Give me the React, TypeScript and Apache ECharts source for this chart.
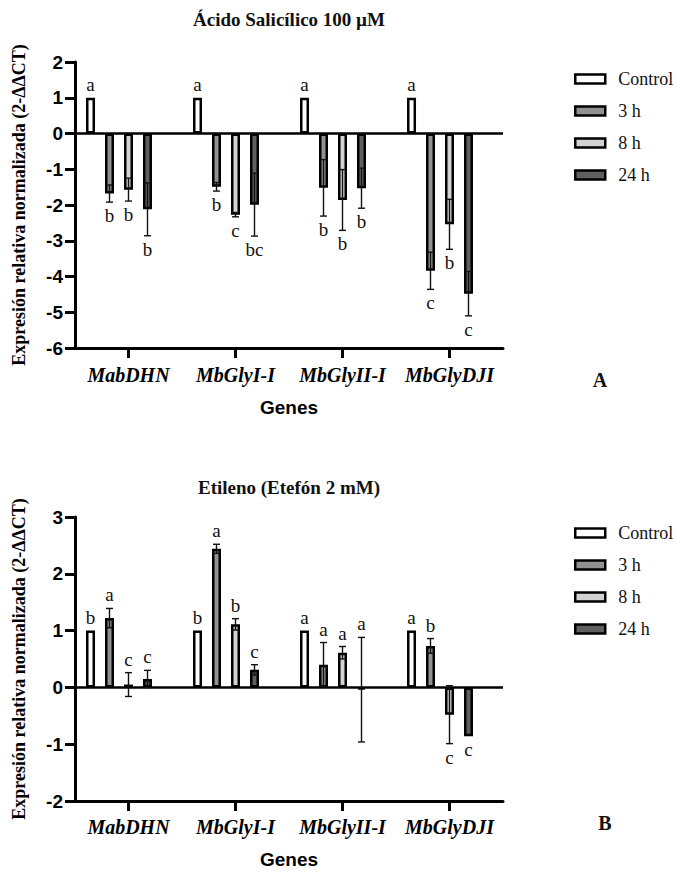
import React, { useEffect, useRef } from 'react';
import * as echarts from 'echarts';

const categories = ['MabDHN', 'MbGlyI-I', 'MbGlyII-I', 'MbGlyDJI'];
const seriesNames = ['Control', '3 h', '8 h', '24 h'];
const seriesColors = ['#ffffff', '#919191', '#d2d2d2', '#5f5f5f'];

// Chart A: Ácido Salicílico 100 µM
const saControl = [1, 1, 1, 1];
const sa3h = [-1.68, -1.49, -1.52, -3.84];
const sa8h = [-1.57, -2.27, -1.86, -2.54];
const sa24h = [-2.12, -1.99, -1.53, -4.48];
const saControlErr = [0, 0, 0, 0];
const sa3hErr = [0.24, 0.12, 0.79, 0.52];
const sa8hErr = [0.32, 0.06, 0.85, 0.7];
const sa24hErr = [0.74, 0.88, 0.56, 0.62];
const saControlLet = ['a', 'a', 'a', 'a'];
const sa3hLet = ['b', 'b', 'b', 'c'];
const sa8hLet = ['b', 'c', 'b', 'b'];
const sa24hLet = ['b', 'bc', 'b', 'c'];
const saTicks = { min: -6, max: 2 };

// Chart B: Etileno (Etefón 2 mM)
const etControl = [1, 1, 1, 1];
const et3h = [1.22, 2.44, 0.4, 0.73];
const et8h = [0.05, 1.11, 0.61, -0.48];
const et24h = [0.15, 0.31, -0.04, -0.86];
const etControlErr = [0, 0, 0, 0];
const et3hErr = [0.17, 0.08, 0.39, 0.13];
const et8hErr = [0.21, 0.1, 0.11, 0.51];
const et24hErr = [0.15, 0.09, 0.92, 0];
const etControlLet = ['b', 'b', 'a', 'a'];
const et3hLet = ['a', 'a', 'a', 'b'];
const et8hLet = ['c', 'b', 'a', 'c'];
const et24hLet = ['c', 'c', 'a', 'c'];
const etTicks = { min: -2, max: 3 };

const BAR_W = 9;
const BAR_GAP = 10 / 9;
const N_SLOTS = 5;
const SPACING = BAR_W * (1 + BAR_GAP);

const SERIF = '"Liberation Serif", "Times New Roman", serif';
const SANS = '"Liberation Sans", Arial, sans-serif';

function buildChart(
  g: number,
  values: number[][],
  errs: number[][],
  letters: string[][]
) {
  const series: any[] = [];
  values.forEach((vals, s) => {
    const bs: any = {
      type: 'bar',
      name: seriesNames[s],
      xAxisIndex: g,
      yAxisIndex: g,
      data: vals,
      barWidth: BAR_W,
      barGap: Math.round(BAR_GAP * 100) + '%',
      itemStyle: { color: seriesColors[s], borderColor: '#000', borderWidth: 2.5 },
      z: 2,
    };
    if (s === 0) {
      bs.markLine = {
        silent: true,
        symbol: ['none', 'none'],
        label: { show: false },
        lineStyle: { color: '#000', width: 2.5, type: 'solid' },
        data: [{ yAxis: 0 }],
        z: 4,
      };
    }
    series.push(bs);
  });
  // empty slot so that the group sits left of the tick, as in the original
  series.push({
    type: 'bar',
    name: '_pad' + g,
    xAxisIndex: g,
    yAxisIndex: g,
    data: ['-', '-', '-', '-'],
    barWidth: BAR_W,
    barGap: Math.round(BAR_GAP * 100) + '%',
  });

  const data: number[][] = [];
  const lets: string[] = [];
  values.forEach((vals, s) => {
    vals.forEach((v, c) => {
      data.push([c, s, v, errs[s][c]]);
      lets.push(letters[s][c]);
    });
  });

  series.push({
    type: 'custom',
    xAxisIndex: g,
    yAxisIndex: g,
    z: 6,
    clip: false,
    silent: true,
    data,
    renderItem: (params: any, api: any) => {
      const c = api.value(0);
      const s = api.value(1);
      const v = api.value(2);
      const e = api.value(3);
      const pv = api.coord([c, v]);
      const x = pv[0] + (s - (N_SLOTS - 1) / 2) * SPACING;
      const yv = pv[1];
      const yHi = api.coord([c, v + e])[1];
      const yLo = api.coord([c, v - e])[1];
      const children: any[] = [];
      const ls = { stroke: '#111', lineWidth: 1.4 };
      if (e > 0) {
        children.push({ type: 'line', shape: { x1: x, y1: yHi, x2: x, y2: yLo }, style: ls });
        children.push({ type: 'line', shape: { x1: x - 3.5, y1: yHi, x2: x + 3.5, y2: yHi }, style: ls });
        children.push({ type: 'line', shape: { x1: x - 3.5, y1: yLo, x2: x + 3.5, y2: yLo }, style: ls });
      }
      const up = v > -0.1;
      const ty = up ? Math.min(yHi, yv) - 4 : Math.max(yLo, yv) + 4;
      children.push({
        type: 'text',
        style: {
          x,
          y: ty,
          text: lets[params.dataIndex],
          align: 'center',
          verticalAlign: up ? 'bottom' : 'top',
          font: '19px ' + SERIF,
          fill: '#111',
        },
      });
      return { type: 'group', children };
    },
  });
  return series;
}

function axisPair(g: number, ticks: { min: number; max: number }, labelMargin: number, nameGap: number) {
  const xAxis = {
    type: 'category',
    gridIndex: g,
    data: categories,
    axisLine: { show: true, onZero: false, lineStyle: { color: '#000', width: 3 } },
    axisTick: { show: true, alignWithLabel: true, interval: 0, inside: false, length: 10, lineStyle: { color: '#000', width: 3 } },
    axisLabel: {
      interval: 0,
      fontFamily: SERIF,
      fontStyle: 'italic',
      fontWeight: 'bold',
      fontSize: 20,
      color: '#000',
      margin: labelMargin,
    },
    name: 'Genes',
    nameLocation: 'middle',
    nameGap,
    nameTextStyle: { fontFamily: SANS, fontWeight: 'bold', fontSize: 19, color: '#000' },
  };
  const yAxis = {
    type: 'value',
    gridIndex: g,
    min: ticks.min,
    max: ticks.max,
    interval: 1,
    splitLine: { show: false },
    axisLine: { show: true, lineStyle: { color: '#000', width: 3 } },
    axisTick: { show: true, length: 10, lineStyle: { color: '#000', width: 3 } },
    axisLabel: { fontFamily: SANS, fontWeight: 'bold', fontSize: 19, color: '#000', margin: 12 },
    name: 'Expresión relativa normalizada (2-ΔΔCT)',
    nameLocation: 'middle',
    nameGap: 47,
    nameTextStyle: { fontFamily: SERIF, fontWeight: 'bold', fontSize: 18, color: '#000' },
  };
  return { xAxis, yAxis };
}

function legendAt(top: number) {
  return {
    orient: 'vertical',
    left: 569,
    top,
    itemWidth: 30,
    itemHeight: 9,
    itemGap: 14,
    data: seriesNames,
    selectedMode: false,
    icon: 'rect',
    itemStyle: { borderColor: '#000', borderWidth: 2.5 },
    textStyle: { fontFamily: SERIF, fontSize: 18, color: '#111', padding: [0, 0, 0, 8] },
  };
}

function buildOption() {
  const a = axisPair(0, saTicks, 17, 50);
  const b = axisPair(1, etTicks, 16, 49);
  return {
    animation: false,
    backgroundColor: '#ffffff',
    grid: [
      { left: 75, top: 62, width: 428, height: 286 },
      { left: 75, top: 517, width: 428, height: 284 },
    ],
    xAxis: [a.xAxis, b.xAxis],
    yAxis: [a.yAxis, b.yAxis],
    legend: [legendAt(65), legendAt(519)],
    graphic: [
      {
        type: 'text',
        x: 289,
        y: 19,
        style: { text: 'Ácido Salicílico 100 µM', align: 'center', verticalAlign: 'middle', font: 'bold 19px ' + SERIF, fill: '#111' },
      },
      {
        type: 'text',
        x: 289,
        y: 487,
        style: { text: 'Etileno (Etefón 2 mM)', align: 'center', verticalAlign: 'middle', font: 'bold 19px ' + SERIF, fill: '#111' },
      },
      {
        type: 'text',
        x: 600,
        y: 380,
        style: { text: 'A', align: 'center', verticalAlign: 'middle', font: 'bold 20px ' + SERIF, fill: '#111' },
      },
      {
        type: 'text',
        x: 605,
        y: 823,
        style: { text: 'B', align: 'center', verticalAlign: 'middle', font: 'bold 20px ' + SERIF, fill: '#111' },
      },
    ],
    series: [
      ...buildChart(
        0,
        [saControl, sa3h, sa8h, sa24h],
        [saControlErr, sa3hErr, sa8hErr, sa24hErr],
        [saControlLet, sa3hLet, sa8hLet, sa24hLet]
      ),
      ...buildChart(
        1,
        [etControl, et3h, et8h, et24h],
        [etControlErr, et3hErr, et8hErr, et24hErr],
        [etControlLet, et3hLet, et8hLet, et24hLet]
      ),
    ],
  };
}

export default function App() {
  const ref = useRef<HTMLDivElement>(null);
  useEffect(() => {
    if (!ref.current) return;
    const chart = echarts.init(ref.current, null, { renderer: 'svg' });
    chart.setOption(buildOption() as any);
    return () => chart.dispose();
  }, []);
  return (
    <div
      ref={ref}
      style={{ position: 'absolute', left: 0, top: 0, width: 677, height: 873, background: '#fff' }}
    />
  );
}
